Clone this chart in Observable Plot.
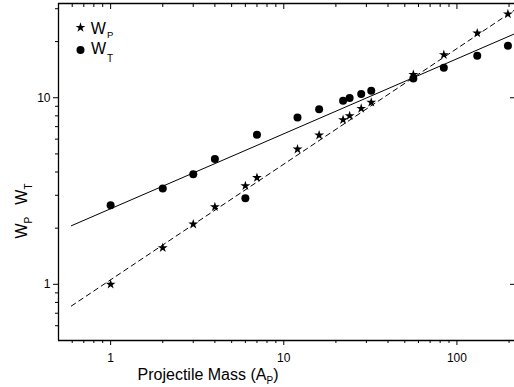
<!DOCTYPE html>
<html>
<head>
<meta charset="utf-8">
<script src="https://cdn.jsdelivr.net/npm/d3@7"></script>
<script src="https://cdn.jsdelivr.net/npm/@observablehq/plot@0.6"></script>
<style>
  html, body { margin: 0; padding: 0; background: white; }
</style>
</head>
<body>
<div id="chart"></div>
<script>
// Data
const projectileMass = [1, 2, 3, 4, 6, 7, 12, 16, 22, 24, 28, 32, 56, 84, 131, 197];
const wP = [1.0, 1.57, 2.10, 2.60, 3.37, 3.73, 5.3, 6.3, 7.62, 8.0, 8.76, 9.44, 13.3, 17.0, 22.2, 28.1];
const wT = [2.65, 3.26, 3.89, 4.69, 2.89, 6.33, 7.84, 8.69, 9.64, 9.96, 10.46, 10.9, 12.7, 14.5, 16.8, 19.0];

// Fit lines (end points)
const fitMass = [0.593, 215];
const fitWP = [0.765, 29.5];
const fitWT = [2.06, 22.0];

// Tick values
const xMajorTicks = [1, 10, 100];
const xMinorTicks = [0.6, 0.7, 0.8, 0.9, 2, 3, 4, 5, 6, 7, 8, 9, 20, 30, 40, 50, 60, 70, 80, 90, 200];
const yMajorTicks = [1, 10];
const yMinorTicks = [0.6, 0.7, 0.8, 0.9, 2, 3, 4, 5, 6, 7, 8, 9, 20, 30];

const pointsP = projectileMass.map((m, i) => ({mass: m, w: wP[i]}));
const pointsT = projectileMass.map((m, i) => ({mass: m, w: wT[i]}));
const lineP = fitMass.map((m, i) => ({mass: m, w: fitWP[i]}));
const lineT = fitMass.map((m, i) => ({mass: m, w: fitWT[i]}));

const blank = () => "";

const chart = Plot.plot({
  width: 514,
  height: 387,
  marginLeft: 58,
  marginRight: 0,
  marginTop: 3,
  marginBottom: 47,
  x: {type: "log", domain: [0.5, 215]},
  y: {type: "log", domain: [0.5, 32]},
  style: {fontFamily: "'Liberation Sans', Arial, sans-serif", fontSize: "12px", color: "black", background: "white"},
  marks: [
    // bottom axis
    Plot.axisX({anchor: "bottom", ticks: xMajorTicks, tickSize: 5, tickPadding: 8, tickFormat: d => String(d), label: null, fontSize: 12}),
    Plot.axisX({anchor: "bottom", ticks: xMinorTicks, tickSize: 3, tickFormat: blank, label: null}),
    // top axis (inward ticks)
    Plot.axisX({anchor: "top", ticks: xMajorTicks, tickSize: -5, tickFormat: blank, label: null}),
    Plot.axisX({anchor: "top", ticks: xMinorTicks, tickSize: -3, tickFormat: blank, label: null}),
    // left axis
    Plot.axisY({anchor: "left", ticks: yMajorTicks, tickSize: 5, tickPadding: 3, tickFormat: d => String(d), label: null, fontSize: 12}),
    Plot.axisY({anchor: "left", ticks: yMinorTicks, tickSize: 3, tickFormat: blank, label: null}),
    // right axis (inward ticks)
    Plot.axisY({anchor: "right", ticks: yMajorTicks, tickSize: -5, tickFormat: blank, label: null}),
    // frame lines
    Plot.ruleY([0.5], {stroke: "black", strokeWidth: 1.3}),
    Plot.ruleY([32], {stroke: "black", strokeWidth: 1.3}),
    Plot.ruleX([0.5], {stroke: "black", strokeWidth: 1.3}),
    // fit lines
    Plot.line(lineT, {x: "mass", y: "w", stroke: "black", strokeWidth: 1}),
    Plot.line(lineP, {x: "mass", y: "w", stroke: "black", strokeWidth: 1, strokeDasharray: "5,4"}),
    // data points
    Plot.dot(pointsT, {x: "mass", y: "w", r: 4, fill: "black", stroke: null, symbol: "circle"}),
    Plot.dot(pointsP, {x: "mass", y: "w", r: 3.1, fill: "black", stroke: null, symbol: "star"}),
    // legend symbols
    Plot.dot([0], {x: null, y: null, frameAnchor: "top-left", dx: 22, dy: 24, r: 3.1, fill: "black", stroke: null, symbol: "star"}),
    Plot.dot([0], {x: null, y: null, frameAnchor: "top-left", dx: 22, dy: 46.5, r: 4, fill: "black", stroke: null, symbol: "circle"})
  ]
});

document.getElementById("chart").appendChild(chart);

const svg = d3.select(chart);
const font = "'Liberation Sans', Arial, sans-serif";

// x axis label
const xl = svg.append("text")
  .attr("x", 208).attr("y", 380)
  .attr("font-family", font).attr("font-size", 16).attr("fill", "black");
xl.append("tspan").text("Projectile Mass (A");
xl.append("tspan").attr("font-size", 10).attr("dy", 4).text("P");
xl.append("tspan").attr("dy", -4).text(")");

// y axis label
const yl = svg.append("text")
  .attr("transform", "translate(27,211) rotate(-90)")
  .attr("font-family", font).attr("font-size", 16).attr("fill", "black");
yl.append("tspan").text("W");
yl.append("tspan").attr("font-size", 10).attr("dy", 5).text("P");
yl.append("tspan").attr("dy", -5).attr("dx", 12).text("W");
yl.append("tspan").attr("font-size", 10).attr("dy", 5).text("T");

// legend labels
const l1 = svg.append("text")
  .attr("x", 102).attr("y", 34.3)
  .attr("font-family", font).attr("font-size", 16).attr("fill", "black");
l1.append("tspan").text("W");
l1.append("tspan").attr("font-size", 9.5).attr("dy", 3.5).attr("dx", 1).text("P");

const l2 = svg.append("text")
  .attr("x", 102).attr("y", 54)
  .attr("font-family", font).attr("font-size", 16).attr("fill", "black");
l2.append("tspan").text("W");
l2.append("tspan").attr("font-size", 10).attr("dy", 7.5).attr("dx", 1).text("T");
</script>
</body>
</html>
